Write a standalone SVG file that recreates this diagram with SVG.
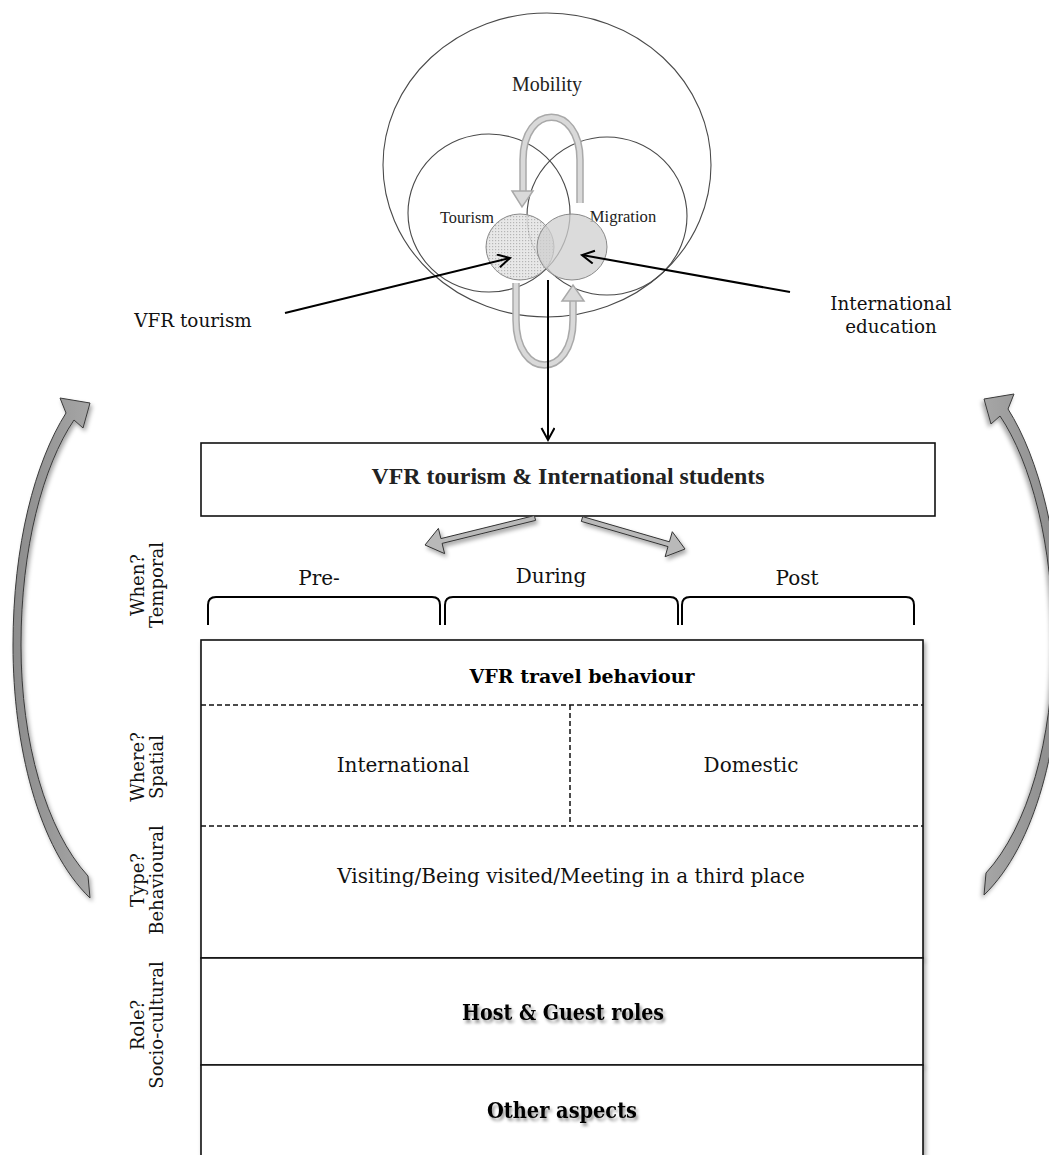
<svg xmlns="http://www.w3.org/2000/svg" width="1049" height="1155" viewBox="0 0 1049 1155">
<style>
.ser{font-family:"Liberation Serif","Times New Roman",serif;fill:#222}
.cam{font-family:"DejaVu Serif","Liberation Serif",serif;fill:#111}
.camb{font-family:"DejaVu Serif","Liberation Serif",serif;font-weight:bold;fill:#000}
.ring{fill:none;stroke:#4a4a4a;stroke-width:1.1}
.box{fill:#fff;stroke:#111;stroke-width:1.6}
.dash{fill:none;stroke:#111;stroke-width:1.5;stroke-dasharray:5 3}
.blk{fill:none;stroke:#000;stroke-width:2}
.brk{fill:none;stroke:#000;stroke-width:2}
.gout{fill:none;stroke:#a9a9a9;stroke-width:7.5;stroke-linecap:butt}
.gin{fill:none;stroke:#d9d9d9;stroke-width:4.5;stroke-linecap:butt}
.ghead{fill:#d9d9d9;stroke:#a9a9a9;stroke-width:1.5}
.barrow{fill:#b9b9b9;stroke:#333;stroke-width:1}
.side{fill:url(#sg);stroke:#3a3a3a;stroke-width:1}
</style>
<defs>
<marker id="chev" markerUnits="userSpaceOnUse" markerWidth="16" markerHeight="16" refX="13" refY="7" orient="auto">
<path d="M1,0.5 L13,7 L1,13.5" fill="none" stroke="#000" stroke-width="2"/>
</marker>
<pattern id="dots" width="3" height="3" patternUnits="userSpaceOnUse">
<rect width="3" height="3" fill="#e4e4e4"/>
<rect x="0" y="0" width="1.2" height="1.2" fill="#a8a8a8"/>
</pattern>
<linearGradient id="sg" x1="0" y1="0" x2="1" y2="0">
<stop offset="0" stop-color="#8c8c8c"/>
<stop offset="1" stop-color="#a6a6a6"/>
</linearGradient>
<filter id="sh" x="-20%" y="-20%" width="140%" height="140%">
<feDropShadow dx="2" dy="3" stdDeviation="2" flood-color="#000" flood-opacity="0.35"/>
</filter>
<filter id="tsh" x="-10%" y="-30%" width="120%" height="160%">
<feDropShadow dx="2" dy="3" stdDeviation="1.8" flood-color="#000" flood-opacity="0.4"/>
</filter>
</defs>

<!-- Venn nodes -->
<g id="mobility">
<ellipse class="ring" cx="547" cy="165" rx="164" ry="152"/>
<text class="ser" x="547" y="91" font-size="20" text-anchor="middle">Mobility</text>
</g>
<g id="tourism">
<ellipse class="ring" cx="489" cy="213" rx="81" ry="79"/>
<text class="ser" x="467" y="223" font-size="16.3" text-anchor="middle">Tourism</text>
</g>
<g id="migration">
<ellipse class="ring" cx="607" cy="216" rx="80" ry="79"/>
<text class="ser" x="623" y="222" font-size="16.6" text-anchor="middle">Migration</text>
</g>
<g id="vfr-overlap">
<ellipse cx="520" cy="247" rx="34" ry="33" fill="url(#dots)" fill-opacity="0.85" stroke="#8a8a8a" stroke-width="1"/>
</g>
<g id="edu-overlap">
<ellipse cx="572" cy="247" rx="35" ry="33" fill="#cfcfcf" fill-opacity="0.75" stroke="#8a8a8a" stroke-width="1"/>
</g>

<g id="vfr-tourism-label">
<text class="cam" x="193" y="327" font-size="18.4" text-anchor="middle">VFR tourism</text>
</g>
<g id="international-education-label">
<text class="cam" x="891" y="310" font-size="18.3" text-anchor="middle">International</text>
<text class="cam" x="891" y="333" font-size="18.3" text-anchor="middle">education</text>
</g>

<g id="vfr-students">
<rect class="box" x="201" y="443" width="734" height="73"/>
<text class="ser" x="568" y="484" font-size="24" font-weight="bold" fill="#000" text-anchor="middle" textLength="393" lengthAdjust="spacingAndGlyphs">VFR tourism &amp; International students</text>
</g>

<g id="temporal">
<path class="brk" d="M208,625 L208,605 Q208,597 216,597 L432,597 Q440,597 440,605 L440,625"/>
<path class="brk" d="M445,625 L445,605 Q445,597 453,597 L670,597 Q678,597 678,605 L678,625"/>
<path class="brk" d="M682,625 L682,605 Q682,597 690,597 L906,597 Q914,597 914,605 L914,625"/>
<text class="cam" x="319" y="585" font-size="20" text-anchor="middle">Pre-</text>
<text class="cam" x="551" y="583" font-size="20" text-anchor="middle">During</text>
<text class="cam" x="797" y="585" font-size="20" text-anchor="middle">Post</text>
</g>

<g id="side-labels">
<text class="cam" font-size="18" text-anchor="middle" transform="translate(144,585) rotate(-90)">When?</text>
<text class="cam" font-size="18" text-anchor="middle" transform="translate(163,585) rotate(-90)">Temporal</text>
<text class="cam" font-size="18" text-anchor="middle" transform="translate(144,767) rotate(-90)">Where?</text>
<text class="cam" font-size="18" text-anchor="middle" transform="translate(163,767) rotate(-90)">Spatial</text>
<text class="cam" font-size="18" text-anchor="middle" transform="translate(144,880) rotate(-90)">Type?</text>
<text class="cam" font-size="18" text-anchor="middle" transform="translate(163,880) rotate(-90)">Behavioural</text>
<text class="cam" font-size="18" text-anchor="middle" transform="translate(144,1025) rotate(-90)">Role?</text>
<text class="cam" font-size="18" text-anchor="middle" transform="translate(163,1025) rotate(-90)">Socio-cultural</text>
</g>

<g id="vfr-travel-behaviour">
<rect class="box" x="201" y="640" width="722" height="318" filter="url(#sh)"/>
<text class="camb" x="582" y="683" font-size="19" text-anchor="middle">VFR travel behaviour</text>
<line class="dash" x1="201" y1="705" x2="923" y2="705"/>
<line class="dash" x1="570" y1="705" x2="570" y2="826"/>
<line class="dash" x1="201" y1="826" x2="923" y2="826"/>
</g>
<g id="international">
<text class="cam" x="403" y="772" font-size="20" text-anchor="middle">International</text>
</g>
<g id="domestic">
<text class="cam" x="751" y="772" font-size="20" text-anchor="middle">Domestic</text>
</g>
<g id="visiting">
<text class="cam" x="571" y="883" font-size="20" text-anchor="middle">Visiting/Being visited/Meeting in a third place</text>
</g>
<g id="host-guest">
<rect class="box" x="201" y="958" width="722" height="107" filter="url(#sh)"/>
<text class="camb" x="563" y="1020" font-size="22" text-anchor="middle" textLength="202" lengthAdjust="spacingAndGlyphs" filter="url(#tsh)">Host &amp; Guest roles</text>
</g>
<g id="other-aspects">
<path class="box" d="M201,1160 L201,1065 L923,1065 L923,1160" filter="url(#sh)"/>
<text class="camb" x="562" y="1118" font-size="22" text-anchor="middle" textLength="150" lengthAdjust="spacingAndGlyphs" filter="url(#tsh)">Other aspects</text>
</g>

<!-- connectors -->
<g id="connectors">
<path class="gout" d="M580,203 L580,160 C580,103 523,103 523,160 L523,191"/>
<path class="gin" d="M580,203 L580,160 C580,103 523,103 523,160 L523,192"/>
<path class="ghead" d="M512,191 L533,191 L522,207 Z"/>
<path class="gout" d="M516,283 L516,320 C516,380 573,380 573,320 L573,301"/>
<path class="gin" d="M516,283 L516,320 C516,380 573,380 573,320 L573,300"/>
<path class="ghead" d="M562,301 L584,301 L573,285 Z"/>

<line class="blk" x1="285" y1="313" x2="510" y2="258" marker-end="url(#chev)"/>
<line class="blk" x1="790" y1="292" x2="582" y2="255" marker-end="url(#chev)"/>
<line class="blk" x1="548" y1="280" x2="548" y2="440" marker-end="url(#chev)"/>

<path class="barrow" filter="url(#sh)" d="M534.4,515.6 L440.9,538.6 L438.4,528.4 L425,545 L444.6,553.6 L442.1,543.4 L535.6,520.4 Z"/>
<path class="barrow" filter="url(#sh)" d="M582.7,516.6 L669.4,541.8 L672.3,531.7 L685,549 L665.1,556.7 L668.0,546.6 L581.3,521.4 Z"/>

<path id="side-left" class="side" filter="url(#sh)" d="M90,898 C38,848 13,745 13,645 C13,545 35,462 66,413 L60,398 L90,403 L83,428 L74,420 C43,466 21,548 21,645 C21,742 46,830 88,876 Z"/>
<path id="side-right" class="side" filter="url(#sh)" transform="matrix(-1,0,0,1,1074,0)" d="M90,895 C38,845 13,742 13,642 C13,542 35,458 66,409 L60,394 L90,399 L83,424 L74,416 C43,462 21,545 21,642 C21,739 46,827 88,873 Z"/>
</g>
</svg>
